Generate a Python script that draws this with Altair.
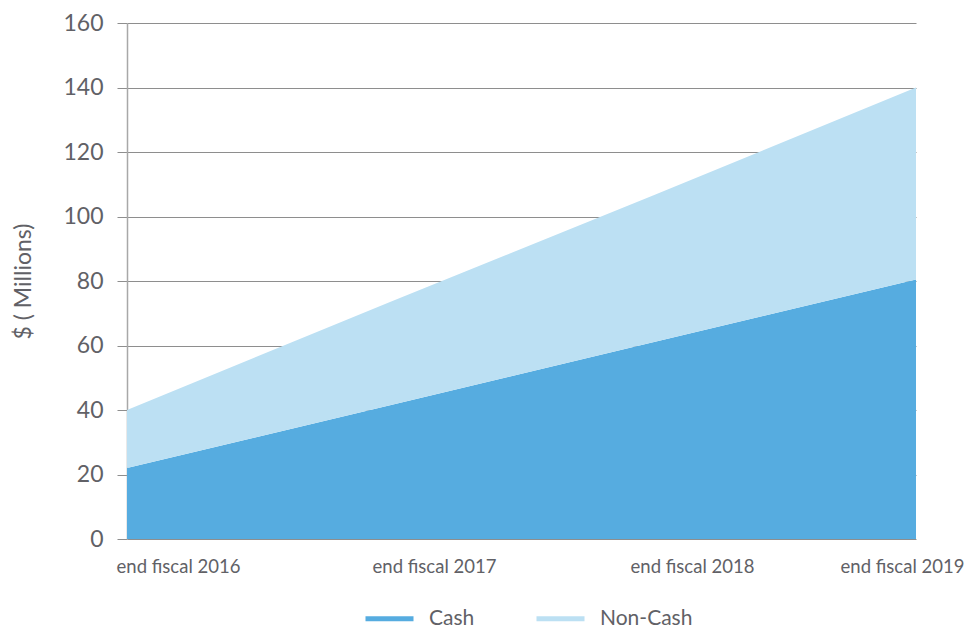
import altair as alt
import pandas as pd

periods = ["end fiscal 2016", "end fiscal 2017", "end fiscal 2018", "end fiscal 2019"]
cash = [22, 41.5, 61, 80.5]
non_cash = [18, 32, 45.5, 59.5]
series_names = ["Cash", "Non-Cash"]
series_colors = ["#56ACE0", "#BCE0F3"]
y_ticks = [0, 20, 40, 60, 80, 100, 120, 140, 160]

rows = []
for i, p in enumerate(periods):
    rows.append({"idx": i, "period": p, "series": series_names[0], "value": cash[i], "ord": 0})
    rows.append({"idx": i, "period": p, "series": series_names[1], "value": non_cash[i], "ord": 1})
df = pd.DataFrame(rows)

label_expr = "[" + ",".join("'" + p + "'" for p in periods) + "][datum.value]"
FONT = "Lato"
TEXT = "#616166"

x = alt.X(
    "idx:Q",
    scale=alt.Scale(domain=[0, len(periods) - 1], nice=False, zero=False),
    axis=alt.Axis(
        values=list(range(len(periods))),
        labelExpr=label_expr,
        title=None,
        grid=False,
        domain=False,
        ticks=False,
        labelFlush=False,
        labelAlign="center",
        labelOffset={
            "condition": [
                {"test": "datum.value == 0", "value": 51},
                {"test": "datum.value == 1", "value": 44},
                {"test": "datum.value == 2", "value": 39},
            ],
            "value": -14,
        },
        labelPadding=18,
        labelFont=FONT,
        labelFontSize=18.5,
        labelColor=TEXT,
    ),
)

y = alt.Y(
    "value:Q",
    stack="zero",
    scale=alt.Scale(domain=[0, 160], nice=False),
    axis=alt.Axis(
        values=y_ticks,
        title="$ ( Millions)",
        titleFont=FONT,
        titleFontSize=23,
        titleFontWeight="normal",
        titleColor=TEXT,
        titlePadding=27,
        grid=True,
        gridColor="#8e8e8e",
        gridWidth=1,
        tickSize=10,
        tickColor="#8e8e8e",
        domain=True,
        domainColor="#a8a8a8",
        domainWidth=1.5,
        labelFont=FONT,
        labelFontSize=23,
        labelColor=TEXT,
        labelPadding=14,
    ),
)

color_scale = alt.Scale(domain=series_names, range=series_colors)
legend = alt.Legend(
    title=None,
    orient="none",
    legendX=236,
    legendY=569,
    direction="horizontal",
    symbolType="stroke",
    symbolStrokeWidth=5,
    symbolSize=2304,
    symbolOpacity=1,
    labelFont=FONT,
    labelFontSize=21,
    labelColor=TEXT,
    labelOffset=13,
    columnPadding=51,
)

chart = (
    alt.Chart(df)
    .mark_area(strokeWidth=0.01)
    .encode(
        x=x,
        y=y,
        fill=alt.Fill("series:N", scale=color_scale, legend=legend),
        stroke=alt.Stroke("series:N", scale=color_scale, legend=legend),
        order=alt.Order("ord:Q"),
    )
    .properties(
        width=789,
        height=516,
        autosize=alt.AutoSizeParams(type="none"),
        padding={"left": 119, "top": 15, "right": 48, "bottom": 93},
    )
    .configure_view(stroke=None)
)

chart.save("out.html", embed_options={"renderer": "svg", "actions": False})
